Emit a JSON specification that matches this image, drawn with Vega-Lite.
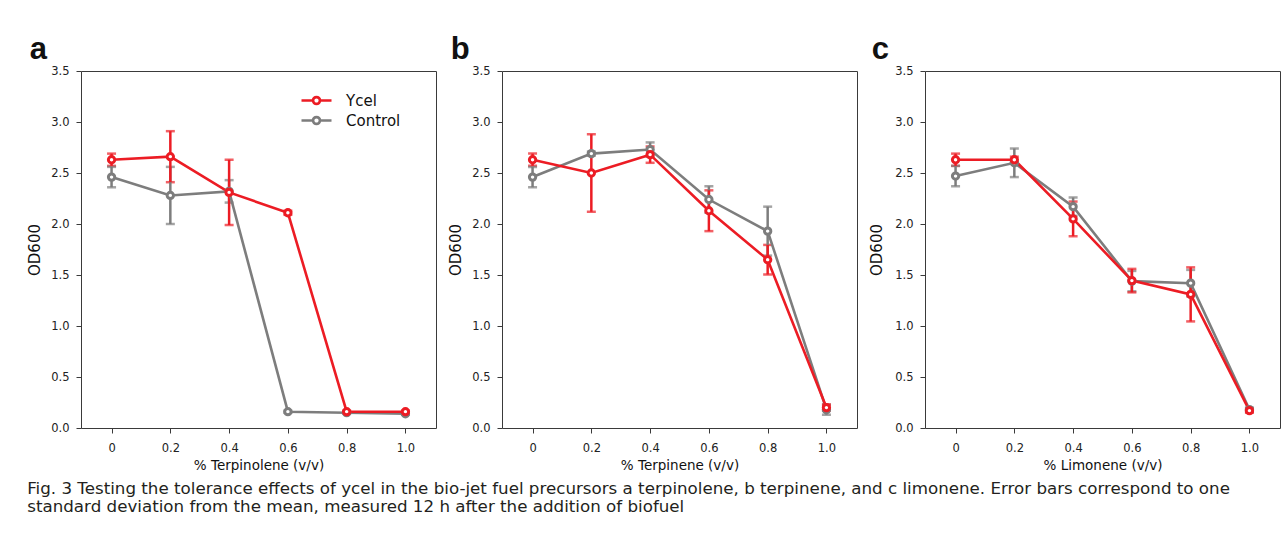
{
  "$schema": "https://vega.github.io/schema/vega-lite/v6.json",
  "padding": {"left": 27, "top": 33, "right": 0, "bottom": 0},
  "background": "white",
  "spacing": 11,
  "title": {
    "text": ["Fig. 3  Testing the tolerance effects of ycel in the bio-jet fuel precursors a terpinolene, b terpinene, and c limonene. Error bars correspond to one", "standard deviation from the mean, measured 12 h after the addition of biofuel"],
    "orient": "bottom", "anchor": "start", "frame": "bounds",
    "font": "DejaVu Sans", "fontSize": 16.7, "fontWeight": "normal", "lineHeight": 18, "color": "#231f20", "offset": 8
  },
  "config": {
    "view": {"stroke": "#3a3a3a", "strokeWidth": 1},
    "axis": {
      "grid": false, "domain": false, "tickColor": "#3a3a3a", "tickSize": 5,
      "labelFont": "DejaVu Sans", "labelFontSize": 11.5, "labelColor": "#222",
      "titleFont": "DejaVu Sans", "titleFontWeight": "normal", "titleColor": "#111"
    },
    "axisY": {"titleFontSize": 15, "labelPadding": 7, "titlePadding": 8},
    "axisX": {"titleFontSize": 13.5, "labelPadding": 9, "titlePadding": 5},
    "title": {"font": "Liberation Sans", "fontSize": 31, "fontWeight": "bold", "color": "#111"}
  },
  "data": {"values": [
    {"panel": "a", "series": "Control", "conc": 0, "od": 2.46, "sd": 0.10},
    {"panel": "a", "series": "Control", "conc": 0.2, "od": 2.28, "sd": 0.28},
    {"panel": "a", "series": "Control", "conc": 0.4, "od": 2.32, "sd": 0.11},
    {"panel": "a", "series": "Control", "conc": 0.6, "od": 0.16, "sd": 0.01},
    {"panel": "a", "series": "Control", "conc": 0.8, "od": 0.15, "sd": 0.01},
    {"panel": "a", "series": "Control", "conc": 1.0, "od": 0.14, "sd": 0.01},
    {"panel": "a", "series": "Ycel", "conc": 0, "od": 2.63, "sd": 0.06},
    {"panel": "a", "series": "Ycel", "conc": 0.2, "od": 2.66, "sd": 0.25},
    {"panel": "a", "series": "Ycel", "conc": 0.4, "od": 2.31, "sd": 0.32},
    {"panel": "a", "series": "Ycel", "conc": 0.6, "od": 2.11, "sd": 0.02},
    {"panel": "a", "series": "Ycel", "conc": 0.8, "od": 0.16, "sd": 0.01},
    {"panel": "a", "series": "Ycel", "conc": 1.0, "od": 0.16, "sd": 0.01},
    {"panel": "b", "series": "Control", "conc": 0, "od": 2.46, "sd": 0.10},
    {"panel": "b", "series": "Control", "conc": 0.2, "od": 2.69, "sd": 0.02},
    {"panel": "b", "series": "Control", "conc": 0.4, "od": 2.73, "sd": 0.07},
    {"panel": "b", "series": "Control", "conc": 0.6, "od": 2.24, "sd": 0.13},
    {"panel": "b", "series": "Control", "conc": 0.8, "od": 1.93, "sd": 0.24},
    {"panel": "b", "series": "Control", "conc": 1.0, "od": 0.18, "sd": 0.05},
    {"panel": "b", "series": "Ycel", "conc": 0, "od": 2.63, "sd": 0.06},
    {"panel": "b", "series": "Ycel", "conc": 0.2, "od": 2.50, "sd": 0.38},
    {"panel": "b", "series": "Ycel", "conc": 0.4, "od": 2.68, "sd": 0.08},
    {"panel": "b", "series": "Ycel", "conc": 0.6, "od": 2.13, "sd": 0.20},
    {"panel": "b", "series": "Ycel", "conc": 0.8, "od": 1.65, "sd": 0.145},
    {"panel": "b", "series": "Ycel", "conc": 1.0, "od": 0.20, "sd": 0.03},
    {"panel": "c", "series": "Control", "conc": 0, "od": 2.47, "sd": 0.10},
    {"panel": "c", "series": "Control", "conc": 0.2, "od": 2.60, "sd": 0.14},
    {"panel": "c", "series": "Control", "conc": 0.4, "od": 2.17, "sd": 0.09},
    {"panel": "c", "series": "Control", "conc": 0.6, "od": 1.44, "sd": 0.10},
    {"panel": "c", "series": "Control", "conc": 0.8, "od": 1.42, "sd": 0.13},
    {"panel": "c", "series": "Control", "conc": 1.0, "od": 0.18, "sd": 0.02},
    {"panel": "c", "series": "Ycel", "conc": 0, "od": 2.63, "sd": 0.06},
    {"panel": "c", "series": "Ycel", "conc": 0.2, "od": 2.63, "sd": 0.03},
    {"panel": "c", "series": "Ycel", "conc": 0.4, "od": 2.05, "sd": 0.17},
    {"panel": "c", "series": "Ycel", "conc": 0.6, "od": 1.445, "sd": 0.115},
    {"panel": "c", "series": "Ycel", "conc": 0.8, "od": 1.31, "sd": 0.265},
    {"panel": "c", "series": "Ycel", "conc": 1.0, "od": 0.17, "sd": 0.02}
  ]},
  "resolve": {"legend": {"color": "independent"}},
  "hconcat": [
    {
      "title": {"text": "a", "anchor": "start", "frame": "bounds", "baseline": "alphabetic", "offset": -25, "dx": 2},
      "width": 355, "height": 357,
      "transform": [{"filter": "datum.panel === 'a'"}],
      "encoding": {
        "x": {"field": "conc", "type": "quantitative", "scale": {"domain": [-0.104, 1.104], "nice": false, "zero": false},
              "axis": {"title": "% Terpinolene (v/v)", "values": [0, 0.2, 0.4, 0.6, 0.8, 1], "labelExpr": "datum.value === 0 ? '0' : format(datum.value, '.1f')"}},
        "y": {"field": "od", "type": "quantitative", "scale": {"domain": [0, 3.5], "nice": false},
              "axis": {"title": "OD600", "values": [0, 0.5, 1, 1.5, 2, 2.5, 3, 3.5], "format": ".1f"}},
        "color": {"field": "series", "type": "nominal", "scale": {"domain": ["Ycel", "Control"], "range": ["#ec1c24", "#7d7d7d"]},
                  "legend": {"orient": "none", "legendX": 228, "legendY": 22, "title": null,
                             "symbolType": "M-3,0H-0.7M0.7,0H3M-0.7,0C-0.7,-0.387,-0.387,-0.7,0,-0.7C0.387,-0.7,0.7,-0.387,0.7,0C0.7,0.387,0.387,0.7,0,0.7C-0.387,0.7,-0.7,0.387,-0.7,0ZM-0.68,0C-0.68,0.376,-0.376,0.68,0,0.68C0.376,0.68,0.68,0.376,0.68,0C0.68,-0.376,0.376,-0.68,0,-0.68C-0.376,-0.68,-0.68,-0.376,-0.68,0Z",
                             "symbolSize": 100, "symbolStrokeWidth": 2.6, "symbolFillColor": "white", "symbolOpacity": 1,
                             "labelFont": "DejaVu Sans", "labelFontSize": 15, "labelColor": "#111", "labelOffset": 22, "rowPadding": 1, "padding": 0,
                             "encode": {"symbols": {"update": {"opacity": {"value": 1}}}}}}
      },
      "layer": [
        {"mark": {"type": "errorbar", "thickness": 2.5, "ticks": {"size": 9, "thickness": 2.5}}, "encoding": {"yError": {"field": "sd"}}},
        {"mark": {"type": "line", "strokeWidth": 2.6}},
        {"mark": {"type": "point", "filled": false, "fill": "white", "size": 40, "strokeWidth": 3, "opacity": 1}}
      ]
    },
    {
      "title": {"text": "b", "anchor": "start", "frame": "bounds", "baseline": "alphabetic", "offset": -25, "dx": 2},
      "width": 355, "height": 357,
      "transform": [{"filter": "datum.panel === 'b'"}],
      "encoding": {
        "x": {"field": "conc", "type": "quantitative", "scale": {"domain": [-0.104, 1.104], "nice": false, "zero": false},
              "axis": {"title": "% Terpinene (v/v)", "values": [0, 0.2, 0.4, 0.6, 0.8, 1], "labelExpr": "datum.value === 0 ? '0' : format(datum.value, '.1f')"}},
        "y": {"field": "od", "type": "quantitative", "scale": {"domain": [0, 3.5], "nice": false},
              "axis": {"title": "OD600", "values": [0, 0.5, 1, 1.5, 2, 2.5, 3, 3.5], "format": ".1f"}},
        "color": {"field": "series", "type": "nominal", "scale": {"domain": ["Ycel", "Control"], "range": ["#ec1c24", "#7d7d7d"]}, "legend": null}
      },
      "layer": [
        {"mark": {"type": "errorbar", "thickness": 2.5, "ticks": {"size": 9, "thickness": 2.5}}, "encoding": {"yError": {"field": "sd"}}},
        {"mark": {"type": "line", "strokeWidth": 2.6}},
        {"mark": {"type": "point", "filled": false, "fill": "white", "size": 40, "strokeWidth": 3, "opacity": 1}}
      ]
    },
    {
      "title": {"text": "c", "anchor": "start", "frame": "bounds", "baseline": "alphabetic", "offset": -25, "dx": 2},
      "width": 355, "height": 357,
      "transform": [{"filter": "datum.panel === 'c'"}],
      "encoding": {
        "x": {"field": "conc", "type": "quantitative", "scale": {"domain": [-0.104, 1.104], "nice": false, "zero": false},
              "axis": {"title": "% Limonene (v/v)", "values": [0, 0.2, 0.4, 0.6, 0.8, 1], "labelExpr": "datum.value === 0 ? '0' : format(datum.value, '.1f')"}},
        "y": {"field": "od", "type": "quantitative", "scale": {"domain": [0, 3.5], "nice": false},
              "axis": {"title": "OD600", "values": [0, 0.5, 1, 1.5, 2, 2.5, 3, 3.5], "format": ".1f", "titlePadding": 10}},
        "color": {"field": "series", "type": "nominal", "scale": {"domain": ["Ycel", "Control"], "range": ["#ec1c24", "#7d7d7d"]}, "legend": null}
      },
      "layer": [
        {"mark": {"type": "errorbar", "thickness": 2.5, "ticks": {"size": 9, "thickness": 2.5}}, "encoding": {"yError": {"field": "sd"}}},
        {"mark": {"type": "line", "strokeWidth": 2.6}},
        {"mark": {"type": "point", "filled": false, "fill": "white", "size": 40, "strokeWidth": 3, "opacity": 1}}
      ]
    }
  ]
}
